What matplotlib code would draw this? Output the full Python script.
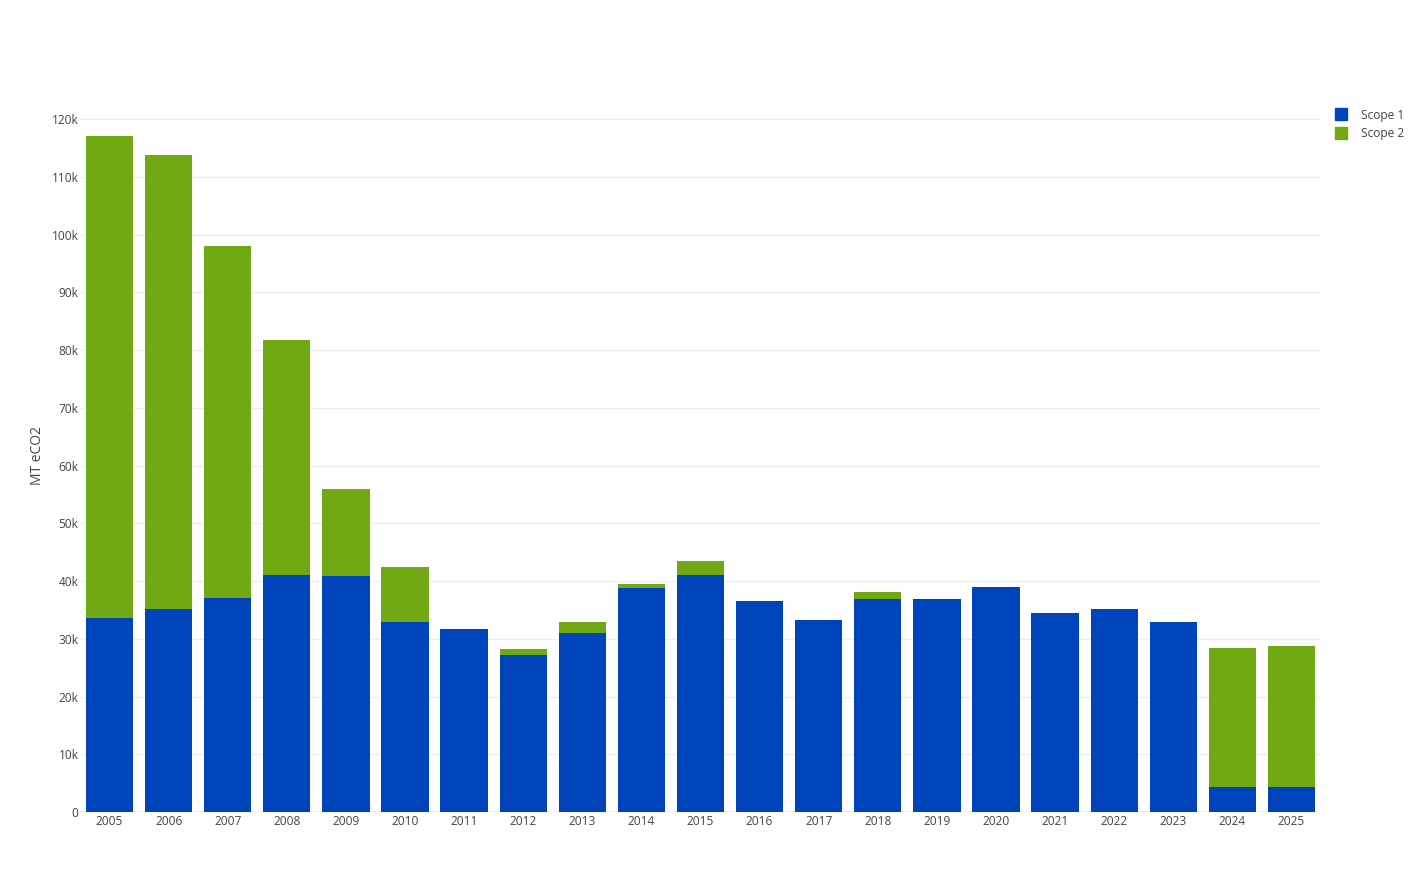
import matplotlib
matplotlib.use("Agg")
import matplotlib.pyplot as plt
from matplotlib.ticker import FuncFormatter, MultipleLocator
from matplotlib.patches import Rectangle

plt.rcParams['font.family'] = ['Open Sans', 'DejaVu Sans']

years = ['2005', '2006', '2007', '2008', '2009', '2010', '2011', '2012', '2013', '2014',
         '2015', '2016', '2017', '2018', '2019', '2020', '2021', '2022', '2023', '2024', '2025']
scope1 = [33.6, 35.2, 37.1, 41.0, 40.9, 32.9, 31.7, 27.2, 31.0, 38.8,
          41.0, 36.5, 33.2, 36.9, 36.9, 39.0, 34.5, 35.2, 32.9, 4.3, 4.3]
totals = [117.1, 113.8, 98.0, 81.7, 55.9, 42.4, 31.7, 28.2, 32.9, 39.5,
          43.5, 36.5, 33.2, 38.1, 36.9, 39.0, 34.5, 35.2, 32.9, 28.4, 28.7]
scope1 = [v * 1000 for v in scope1]
scope2 = [t * 1000 - s for t, s in zip(totals, scope1)]

BLUE = '#0044BB'
GREEN = '#71A914'
TXT = '#444444'

W, H = 1422, 892
fig = plt.figure(figsize=(W / 100, H / 100), dpi=100)
left, right, top, bottom = 80, 1321, 100, 812
ax = fig.add_axes([left / W, 1 - bottom / H, (right - left) / W, (bottom - top) / H])

x = list(range(len(years)))
ax.bar(x, scope1, width=0.8, color=BLUE, zorder=3, label='Scope 1')
ax.bar(x, scope2, width=0.8, bottom=scope1, color=GREEN, zorder=3, label='Scope 2')

ax.set_xlim(-0.5, len(years) - 0.5)
ax.set_ylim(0, 123300)
ax.yaxis.set_major_locator(MultipleLocator(10000))
ax.yaxis.set_major_formatter(FuncFormatter(lambda v, p: '0' if v == 0 else f'{int(v/1000)}k'))
ax.set_xticks(x)
ax.set_xticklabels(years)
ax.grid(axis='y', color='#eeeeee', linewidth=1, zorder=0)
ax.axhline(0, color='#eeeeee', linewidth=2, zorder=1)
for s in ax.spines.values():
    s.set_visible(False)
ax.tick_params(axis='both', length=0, labelsize=8.6, labelcolor=TXT)
ax.tick_params(axis='x', pad=2)
ax.tick_params(axis='y', pad=1)
ax.set_ylabel('MT eCO2', fontsize=10, color=TXT, labelpad=5)

# legend
for i, (lab, col) in enumerate([('Scope 1', BLUE), ('Scope 2', GREEN)]):
    yc = 114 + i * 19
    fig.patches.append(Rectangle(((1335) / W, 1 - (yc + 6) / H), 12 / W, 12 / H,
                                 transform=fig.transFigure, color=col, figure=fig))
    fig.text(1361 / W, 1 - (yc + 1) / H, lab, fontsize=8.6, color=TXT, va='center', ha='left')

fig.savefig('out.png', dpi=100, facecolor='white')
